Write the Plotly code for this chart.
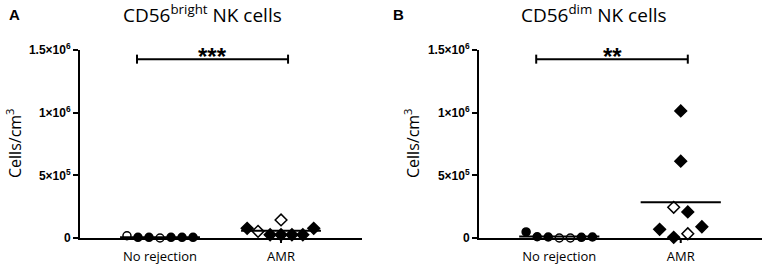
import numpy as np
import plotly.graph_objects as go

# ---- data ----
categories = ["No rejection", "AMR"]
ytick_vals = [0, 5e5, 1e6, 1.5e6]
ytick_text = ["<b>0</b>", "<b>5×10<sup>5</sup></b>", "<b>1×10<sup>6</sup></b>", "<b>1.5×10<sup>6</sup></b>"]

# Panel A: CD56bright
a_norej = [1.8e4, 5e3, 5e3, 0, 5e3, 5e3, 5e3]
a_norej_open = [1, 0, 0, 1, 0, 0, 0]
a_amr = [7.7e4, 5.3e4, 2.6e4, 1.44e5, 2.6e4, 2.6e4, 2.6e4, 7.7e4]
a_amr_open = [0, 1, 0, 1, 0, 0, 0, 0]
a_sig = "***"

# Panel B: CD56dim
b_norej = [4.8e4, 1e4, 8e3, 0, 0, 5e3, 8e3]
b_norej_open = [0, 0, 0, 1, 1, 0, 0]
b_amr = [6.9e4, 5e3, 2.45e5, 6.13e5, 1.014e6, 3.4e4, 2.08e5, 9e4]
b_amr_open = [0, 0, 1, 0, 0, 1, 0, 0]
b_sig = "**"

# horizontal jitter (in category units) for scatter layout
a_norej_dx = [-0.273, -0.182, -0.091, 0, 0.091, 0.182, 0.273]
a_amr_dx = [-0.28, -0.19, -0.09, 0, 0, 0.09, 0.18, 0.27]
b_norej_dx = [-0.273, -0.182, -0.091, 0, 0.091, 0.182, 0.273]
b_amr_dx = [-0.174, -0.058, -0.058, 0, 0, 0.058, 0.058, 0.174]

FONT = "Open Sans"
fig = go.Figure()


def add_group(vals, opens, dx, cat, symbol, xa, ya):
    xs = [cat + d for d in dx]
    fills = ["white" if o else "black" for o in opens]
    fig.add_trace(go.Scatter(
        x=xs, y=vals, mode="markers", xaxis=xa, yaxis=ya, cliponaxis=False,
        marker=dict(symbol=symbol, size=8 if symbol == "circle" else 9,
                    color=fills, line=dict(color="black", width=1.5)),
        showlegend=False, hoverinfo="y"))
    m = float(np.mean(vals))
    fig.add_trace(go.Scatter(
        x=[cat - 0.33, cat + 0.33], y=[m, m], mode="lines", xaxis=xa, yaxis=ya,
        cliponaxis=False, line=dict(color="black", width=2),
        showlegend=False, hoverinfo="skip"))


panels = [
    ("x", "y", a_norej, a_norej_open, a_norej_dx, a_amr, a_amr_open, a_amr_dx, a_sig),
    ("x2", "y2", b_norej, b_norej_open, b_norej_dx, b_amr, b_amr_open, b_amr_dx, b_sig),
]

sig_y = 1.427e6
cap = 3.6e4
for xa, ya, nr, nro, nrdx, am, amo, amdx, sig in panels:
    # category tick mark (only visible below the AMR group)
    fig.add_shape(type="line", xref=xa, yref=ya + " domain", x0=1, x1=1, y0=0, y1=-5 / 188,
                  line=dict(color="black", width=2))
    add_group(nr, nro, nrdx, 0, "circle", xa, ya)
    add_group(am, amo, amdx, 1, "diamond", xa, ya)
    x0, x1 = -0.19, 1.058
    for (px0, py0, px1, py1) in [(x0, sig_y, x1, sig_y), (x0, sig_y - cap, x0, sig_y + cap),
                                 (x1, sig_y - cap, x1, sig_y + cap)]:
        fig.add_shape(type="line", xref=xa, yref=ya, x0=px0, y0=py0, x1=px1, y1=py1,
                      line=dict(color="black", width=2))
    fig.add_annotation(xref=xa, yref=ya, x=(x0 + x1) / 2, y=sig_y, yanchor="bottom",
                       xanchor="center",
                       text="<b>" + sig + "</b>", showarrow=False, yshift=-13,
                       font=dict(family="Liberation Sans", size=24, color="black"))

ydom = [(264 - 238) / 264, (264 - 50) / 264]
xcommon = dict(tickmode="array", tickvals=[0, 1], ticktext=categories, automargin=False,
               showline=True, linecolor="black", linewidth=2, ticks="outside",
               ticklen=5, tickwidth=2, tickcolor="rgba(0,0,0,0)", showgrid=False, zeroline=False,
               tickfont=dict(family=FONT, size=13, color="black"), range=[-0.661, 1.669])
ycommon = dict(tickmode="array", tickvals=ytick_vals, ticktext=ytick_text, range=[0, 1.5e6],
               automargin=False,
               showline=True, linecolor="black", linewidth=2, ticks="outside",
               ticklen=5, tickwidth=2, tickcolor="black", showgrid=False, zeroline=False,
               tickfont=dict(family="Liberation Sans", size=12, color="black"), domain=ydom)

fig.update_layout(
    width=765, height=264, margin=dict(l=0, r=0, t=0, b=0, autoexpand=False),
    plot_bgcolor="white", paper_bgcolor="white", showlegend=False,
    xaxis=dict(domain=[80 / 765, 362 / 765], anchor="y", **xcommon),
    yaxis=dict(anchor="x", **ycommon),
    xaxis2=dict(domain=[479 / 765, 762 / 765], anchor="y2", **xcommon),
    yaxis2=dict(anchor="x2", **ycommon),
)

annots = [
    dict(x=202 / 765, y=1 - 14 / 264, text="CD56<sup>bright</sup> NK cells", size=19),
    dict(x=594 / 765, y=1 - 14 / 264, text="CD56<sup>dim</sup> NK cells", size=19),
]
for a in annots:
    fig.add_annotation(xref="paper", yref="paper", x=a["x"], y=a["y"], text=a["text"],
                       xanchor="center", yanchor="middle",
                       showarrow=False, font=dict(family=FONT, size=a["size"], color="black"))
for x, t in [(14 / 765, "A"), (398 / 765, "B")]:
    fig.add_annotation(xref="paper", yref="paper", x=x, y=1 - 15 / 264, text="<b>" + t + "</b>",
                       xanchor="center", yanchor="middle",
                       showarrow=False, font=dict(family="Liberation Sans", size=15, color="black"))
for x in [14 / 765, 412 / 765]:
    fig.add_annotation(xref="paper", yref="paper", x=x, y=1 - 143 / 264, text="Cells/cm<sup>3</sup>",
                       xanchor="center", yanchor="middle",
                       textangle=-90, showarrow=False,
                       font=dict(family=FONT, size=16, color="black"))

fig.write_html("out.html", config={"displayModeBar": False},
               post_script="document.body.style.margin='0';")
